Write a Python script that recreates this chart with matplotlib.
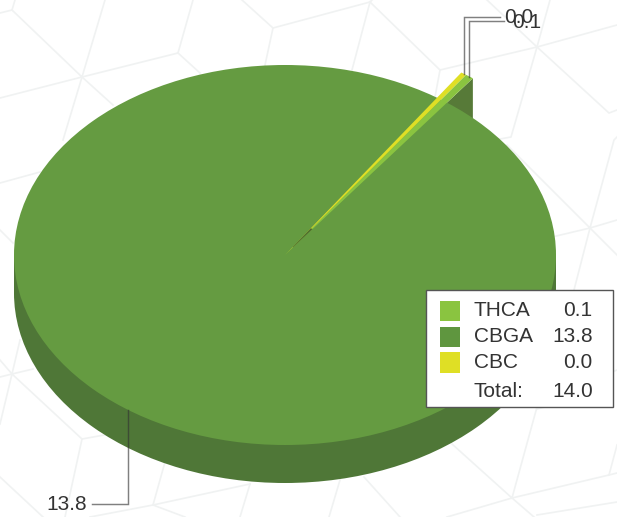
import numpy as np
import matplotlib
matplotlib.use("Agg")
import matplotlib.pyplot as plt
from matplotlib.patches import Wedge, Ellipse, Rectangle, Polygon
from matplotlib.transforms import Affine2D

# ---- data ----
categories = ["THCA", "CBGA", "CBC"]
values = [0.06, 13.84, 0.04]
value_labels = ["0.1", "13.8", "0.0"]
total_label = "14.0"

# ---- style ----
colors = ["#8ac440", "#659b41", "#dfdf25"]
swatch_colors = ["#8ac440", "#5f963f", "#dfdf25"]
side_color = "#4f7737"
cut_color = "#577a38"
text_color = "#333333"
plt.rcParams["font.family"] = ["Liberation Sans", "DejaVu Sans"]
FS = 15.0

# pie geometry in pixels
CX, CY, RX, RY, DEPTH = 285, 255, 271, 190, 38
POP = 1.16          # thin slices stick out of the disc
START = 53.3        # where THCA ends/CBGA begins, degrees

fig = plt.figure(figsize=(6.17, 5.17), dpi=100)
ax = fig.add_axes([0, 0, 1, 1])
ax.set_xlim(0, 617)
ax.set_ylim(517, 0)
ax.axis("off")

# ---- background lattice (decoration) ----
lattice = [
    [(0,13),(12,10),(82,77),(105,0)], [(12,10),(15,0)],
    [(0,98),(82,77),(178,53),(193,0)], [(82,77),(63,140)], [(82,77),(113,105)],
    [(178,53),(200,73)], [(242,0),(273,28),(370,2),(372,0)], [(273,28),(265,65)],
    [(0,183),(40,172)], [(0,230),(13,243)],
    [(370,2),(352,70)], [(370,2),(440,70),(435,97)], [(440,70),(537,47),(617,25)],
    [(487,0),(537,47),(609,113),(617,110)], [(550,0),(537,47),(511,137),(500,139)],
    [(617,137),(614,140),(590,228),(617,220)], [(507,145),(590,228),(552,237)],
    [(590,228),(617,255)], [(590,228),(574,290)],
    [(537,407),(512,498),(452,444)], [(512,498),(609,475),(617,445)],
    [(609,475),(617,473)], [(512,498),(534,517)], [(512,498),(447,517)],
    [(537,515),(617,502)], [(340,480),(329,517)], [(364,477),(400,517)],
    [(537,409),(585,397)], [(617,370),(612,372)],
    [(0,377),(12,374),(33,369)], [(12,374),(20,340)], [(12,374),(0,424)],
    [(0,360),(12,374),(82,439),(110,434)], [(82,439),(65,517)],
    [(0,477),(43,517)], [(165,462),(153,505),(90,517)], [(153,505),(185,517)],
    [(240,517),(250,484)], [(153,505),(250,484)],
]
for seg in lattice:
    xs, ys = zip(*seg)
    ax.plot(xs, ys, color="#f0f2f2", lw=1.2, zorder=0, solid_joinstyle="miter")

# ---- slice angles (clockwise from THCA's start) ----
v = np.array(values, float)
sweep = v / v.sum() * 360
thca_hi = START + sweep[0]
ang = {
    "THCA": (START, thca_hi),
    "CBC": (thca_hi, thca_hi + sweep[2]),
    "CBGA": (START - sweep[1], START),
}
unit = Affine2D().scale(RX, -RY).translate(CX, CY) + ax.transData

def pt(a, r=1.0):
    t = np.radians(a)
    return CX + RX * r * np.cos(t), CY - RY * r * np.sin(t)

# ---- side of the pie ----
ax.add_patch(Ellipse((CX, CY + DEPTH), 2 * RX, 2 * RY, fc=side_color, ec="none", zorder=1))
ax.add_patch(Rectangle((CX - RX, CY), 2 * RX, DEPTH, fc=side_color, ec="none", zorder=1))

# cut face of the protruding slice
tx, ty = pt(START, POP)
ax.add_patch(Polygon([(tx, ty), (tx, ty + DEPTH + 2), (CX, CY + DEPTH + 2), (CX, CY)],
                     fc=cut_color, ec="none", zorder=2))

# ---- top faces ----
ax.add_patch(Ellipse((CX, CY), 2 * RX, 2 * RY, fc=colors[1], ec="none", zorder=3))
a0, a1 = ang["THCA"]
ax.add_patch(Wedge((0, 0), POP, a0, a1, fc=colors[0], ec="none", transform=unit, zorder=4))
a0, a1 = ang["CBC"]
ax.add_patch(Wedge((0, 0), POP, a0, a1, fc=colors[2], ec="none", transform=unit, zorder=4))
# dark seam close to the centre
ax.add_patch(Wedge((0, 0), 0.17, START, a1, width=0.12, fc="#4d6b30", ec="none", transform=unit, zorder=5))

# ---- leader lines and labels ----
lead_kw = dict(color="#333333", alpha=0.62, lw=1.05, zorder=6, solid_joinstyle="miter")
mid = np.mean(ang["CBC"])
x, y = pt(mid, POP)
ax.plot([x, x, 500], [y, 16.5, 16.5], **lead_kw)
ax.text(504, 17.5, value_labels[2], fontsize=FS, color=text_color, ha="left", va="center", zorder=7)

mid = np.mean(ang["THCA"])
x, y = pt(mid, POP)
ax.plot([x, x, 504], [y, 21, 21], **lead_kw)
ax.text(512, 22, value_labels[0], fontsize=FS, color=text_color, ha="left", va="center", zorder=7)

mid = np.mean(ang["CBGA"])
x, y = pt(mid)
ax.plot([x, x, 92], [y, 504, 504], **lead_kw)
ax.text(87, 504, value_labels[1], fontsize=FS, color=text_color, ha="right", va="center", zorder=7)

# ---- legend box ----
ax.add_patch(Rectangle((425.7, 289.7), 187.3, 117.6, fc="white", ec="#555555", lw=1.0, zorder=8))
rows_y = [311, 337, 362.5]
sw_top = [301, 327, 352]
sw_h = [20, 20, 21]
for name, lab, col, ry, st, sh in zip(categories, value_labels, swatch_colors, rows_y, sw_top, sw_h):
    ax.add_patch(Rectangle((440, st), 20, sh, fc=col, ec="none", zorder=9))
    ax.text(473.7, ry, name, fontsize=FS, color=text_color, ha="left", va="center", zorder=9)
    ax.text(592.7, ry, lab, fontsize=FS, color=text_color, ha="right", va="center", zorder=9)
ax.text(473.7, 391.5, "Total:", fontsize=FS, color=text_color, ha="left", va="center", zorder=9)
ax.text(592.7, 391.5, total_label, fontsize=FS, color=text_color, ha="right", va="center", zorder=9)

fig.savefig("out.png", dpi=100)
